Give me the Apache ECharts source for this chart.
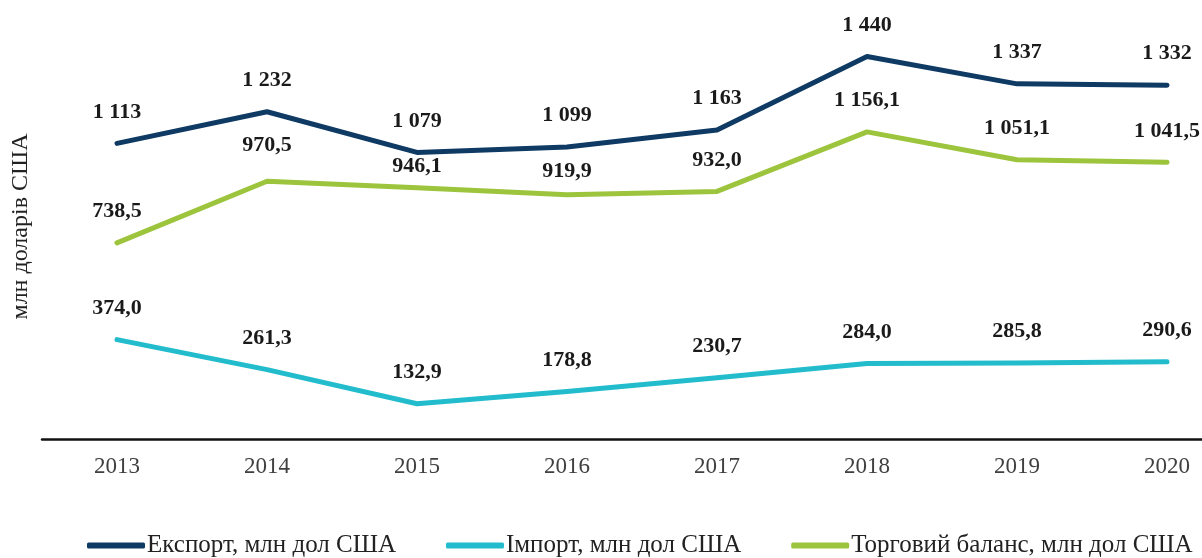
<!DOCTYPE html>
<html>
<head>
<meta charset="utf-8">
<script src="https://cdn.jsdelivr.net/npm/echarts@6/dist/echarts.min.js"></script>
<style>
  html, body { margin: 0; padding: 0; background: #fff; }
  #main { width: 1202px; height: 558px; }
</style>
</head>
<body>
<div id="main"></div>
<script>
var years = [2013, 2014, 2015, 2016, 2017, 2018, 2019, 2020];
var exportVals = [1113, 1232, 1079, 1099, 1163, 1440, 1337, 1332];
var importVals = [374.0, 261.3, 132.9, 178.8, 230.7, 284.0, 285.8, 290.6];
var balanceVals = [738.5, 970.5, 946.1, 919.9, 932.0, 1156.1, 1051.1, 1041.5];

var FONT = '"Liberation Serif", "DejaVu Serif", serif';

// 1 051,1 style number
function fmt(v, dec) {
  var s = v.toFixed(dec);
  var parts = s.split('.');
  var intPart = parts[0].replace(/\B(?=(\d{3})+(?!\d))/g, ' ');
  return parts.length > 1 ? intPart + ',' + parts[1] : intPart;
}

// shift: some labels sit closer to the line (index -> distance)
function lineSeries(name, vals, color, dec, shift) {
  shift = shift || {};
  var data = vals.map(function (v, i) {
    var item = { value: [years[i], v] };
    if (shift[i] != null) item.label = { distance: shift[i] };
    return item;
  });
  return {
    name: name,
    type: 'line',
    data: data,
    symbol: 'circle',
    symbolSize: 1,
    showSymbol: true,
    lineStyle: { color: color, width: 5, cap: 'round', join: 'round' },
    itemStyle: { color: color },
    label: {
      show: true,
      position: 'top',
      distance: 20,
      fontFamily: FONT,
      fontWeight: 'bold',
      fontSize: 22,
      color: '#1a1a1a',
      formatter: function (p) { return fmt(p.value[1], dec) }
    },
    labelLayout: { hideOverlap: false },
    emphasis: { disabled: true }
  }
}

var myChart = echarts.init(document.getElementById('main'));
var option = {
  backgroundColor: '#fff',
  animation: false,
  grid: { left: 42, right: 0, top: 14, bottom: 119 },
  xAxis: {
    type: 'value',
    // half a step before 2013, the axis runs off the right edge
    min: 2012.5,
    max: 2020.2333,
    splitLine: { show: false },
    axisLine: { onZero: false, lineStyle: { color: '#111', width: 2.5 } },
    axisTick: { show: false },
    axisLabel: {
      customValues: years,
      fontFamily: FONT, fontSize: 23, color: '#404040', margin: 16,
      formatter: function (v) { return String(v) }
    }
  },
  yAxis: {
    type: 'value',
    min: 0,
    max: 1600,
    splitLine: { show: false },
    axisLine: { show: false },
    axisTick: { show: false },
    axisLabel: { show: false },
    name: 'млн доларів США',
    nameLocation: 'middle',
    nameGap: 9,
    nameTextStyle: { fontFamily: FONT, fontSize: 24, color: '#222' }
  },
  legend: {
    top: 528,
    left: 82,
    itemWidth: 58,
    itemHeight: 6,
    itemGap: 50,
    textStyle: { fontFamily: FONT, fontSize: 25, color: '#222', padding: [0, 0, 0, -3] },
    data: [
      { name: 'Експорт, млн дол США', icon: 'roundRect' },
      { name: 'Імпорт, млн дол США', icon: 'roundRect' },
      { name: 'Торговий баланс, млн дол США', icon: 'roundRect' }
    ]
  },
  series: [
    lineSeries('Експорт, млн дол США', exportVals, '#0f3a63', 0),
    lineSeries('Імпорт, млн дол США', importVals, '#22bccc', 1),
    lineSeries('Торговий баланс, млн дол США', balanceVals, '#9cc43c', 1, { 1: 24, 2: 10, 3: 12 })
  ]
};
myChart.setOption(option);
</script>
</body>
</html>
